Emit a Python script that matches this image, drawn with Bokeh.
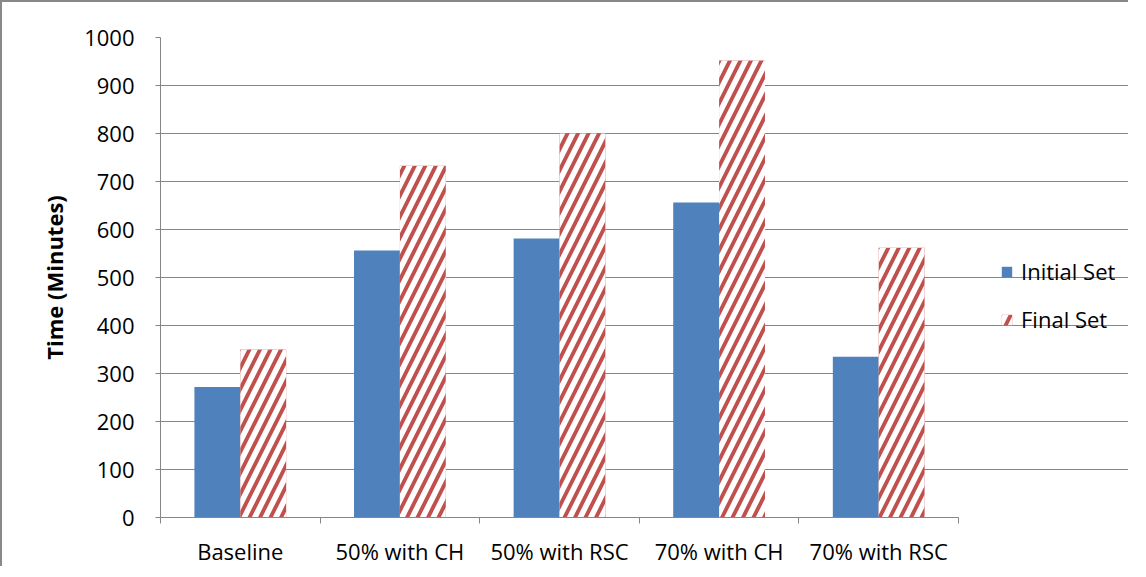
from bokeh.plotting import figure
from bokeh.models import (FixedTicker, Legend, LegendItem, Range1d, ColumnDataSource)
from bokeh.embed import file_html
from bokeh.resources import INLINE

categories = ["Baseline", "50% with CH", "50% with RSC", "70% with CH", "70% with RSC"]
initial_set = [272, 556, 581, 656, 335]
final_set = [350, 733, 800, 952, 562]
y_ticks = [0, 100, 200, 300, 400, 500, 600, 700, 800, 900, 1000]

BLUE = "#4F81BD"
RED = "#C0504D"
GRAY = "#868686"
FONT = "Open Sans"
FS = "22px"

n = len(categories)
centers = [i + 0.5 for i in range(n)]
bw = 0.2875

src = ColumnDataSource(dict(
    xi=[c - bw / 2 for c in centers],
    xf=[c + bw / 2 for c in centers],
    init=initial_set,
    fin=final_set,
))

W, H = 1128, 566
LEFT = 158
plot_px = 798                 # pixel width occupied by the categories
frame_px = W - LEFT           # frame extends to the right edge (legend lives there)
x_end = n * frame_px / plot_px

p = figure(width=W, height=H, output_backend="svg", toolbar_location=None,
           x_range=Range1d(0, x_end), y_range=Range1d(0, 1000),
           min_border_left=LEFT, min_border_right=0, min_border_top=35,
           min_border_bottom=51)
p.styles = {"border-top": "2px solid #888888", "border-left": "2px solid #888888"}
p.outline_line_color = None
p.background_fill_color = "white"
p.border_fill_color = "white"

r1 = p.vbar(x="xi", top="init", width=bw, source=src, fill_color=BLUE, line_color=None)
r2 = p.vbar(x="xf", top="fin", width=bw, source=src, fill_color=RED, line_color=None,
            hatch_pattern="right_diagonal_line", hatch_color="white",
            hatch_weight=5.5, hatch_scale=21)

# y axis
p.yaxis.ticker = FixedTicker(ticks=y_ticks)
p.yaxis.axis_line_color = GRAY
p.yaxis.major_tick_line_color = GRAY
p.yaxis.major_tick_out = 5
p.yaxis.major_tick_in = 0
p.yaxis.minor_tick_line_color = None
p.yaxis.major_label_standoff = 21
p.yaxis.major_label_text_font = FONT
p.yaxis.major_label_text_font_size = FS
p.yaxis.major_label_text_color = "black"
p.yaxis.axis_label = "Time (Minutes)"
p.yaxis.axis_label_text_font = FONT
p.yaxis.axis_label_text_font_style = "bold"
p.yaxis.axis_label_text_font_size = "22px"
p.yaxis.axis_label_text_color = "black"
p.yaxis.axis_label_standoff = 12

# x axis
p.xaxis.bounds = (0, n)
p.xaxis.ticker = FixedTicker(ticks=centers, minor_ticks=list(range(n + 1)))
p.xaxis.major_label_overrides = {c: lab for c, lab in zip(centers, categories)}
p.xaxis.axis_line_color = GRAY
p.xaxis.major_tick_line_color = None
p.xaxis.major_tick_out = 0
p.xaxis.major_tick_in = 0
p.xaxis.minor_tick_line_color = GRAY
p.xaxis.minor_tick_out = 6
p.xaxis.minor_tick_in = 0
p.xaxis.major_label_standoff = 12
p.xaxis.major_label_text_font = FONT
p.xaxis.major_label_text_font_size = FS
p.xaxis.major_label_text_color = "black"

# grid
p.xgrid.grid_line_color = None
p.ygrid.grid_line_color = GRAY
p.ygrid.grid_line_width = 1
p.ygrid.bounds = (0, n)

legend = Legend(items=[LegendItem(label="Initial Set", renderers=[r1]),
                       LegendItem(label="Final Set", renderers=[r2])],
                location=(840, 183), orientation="vertical")
legend.border_line_color = None
legend.background_fill_alpha = 0
legend.padding = 0
legend.margin = 0
legend.glyph_width = 13
legend.glyph_height = 13
legend.label_standoff = 8
legend.label_height = 24
legend.spacing = 18
legend.label_text_font = FONT
legend.label_text_font_size = FS
legend.label_text_color = "black"
p.add_layout(legend, "center")

open("out.html", "w").write(file_html(p, INLINE))
